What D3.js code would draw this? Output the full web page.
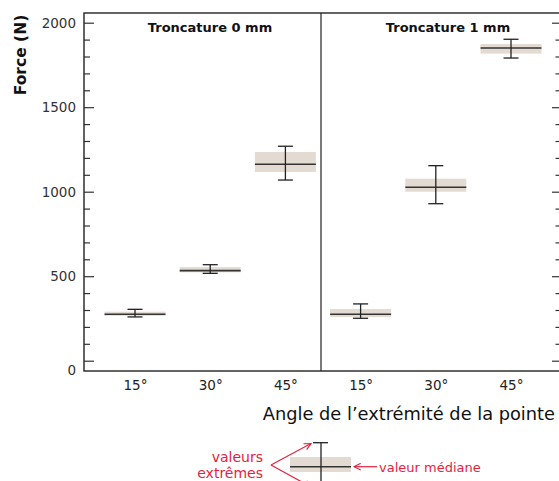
<!DOCTYPE html>
<html>
<head>
<meta charset="utf-8">
<script src="https://cdn.jsdelivr.net/npm/d3@7"></script>
<style>
  body { margin: 0; background: #fff; }
  svg { display: block; }
  svg text { font-family: "DejaVu Sans", Verdana, sans-serif; }
</style>
</head>
<body>
<svg id="chart" width="559" height="481"></svg>
<script>
// data
var panels = ["Troncature 0 mm", "Troncature 1 mm"];
var angles = ["15°", "30°", "45°"];
// one entry per (panel, angle), panel 0 first
var maxVals = [304, 568, 1269, 336, 1154, 1902];
var q3Vals = [290, 554, 1235, 306, 1077, 1874];
var medians = [275, 533, 1162, 275, 1026, 1850];
var q1Vals = [266, 523, 1117, 258, 1000, 1817];
var minVals = [259, 517, 1069, 251, 929, 1791];
var yTicks = [0, 500, 1000, 1500, 2000];

var groups = [];
panels.forEach(function (p, pi) {
    angles.forEach(function (a, ai) {
        var i = pi * angles.length + ai;
        groups.push({
            key: pi + "-" + a, angle: a,
            max: maxVals[i], q3: q3Vals[i], med: medians[i], q1: q1Vals[i], min: minVals[i]
        });
    });
});

var plotL = 84, plotR = 560, plotT = 13, plotB = 371, divider = 321;
var dark = "#222", red = "#e4233f";

var svg = d3.select("#chart");

var y = d3.scaleLinear().domain([0, 2000]).range([360.7, 22.7]);
var x = d3.scalePoint().domain(groups.map(function (d) { return d.key; })).range([135, 511]);

var minor = d3.range(0, 2001, 100).filter(function (v) { return v % 500 != 0; });

// left axis, ticks pointing inside
var yAxis = svg.append("g").attr("transform", "translate(" + plotL + ",0)")
    .call(d3.axisLeft(y).tickValues(yTicks).tickSize(-10).tickPadding(8).tickFormat(d3.format("d")));
yAxis.select(".domain").remove();
yAxis.selectAll("text").style("font-size", "13.5px").attr("fill", "#333")
    .attr("dy", function (d) { return d == 0 ? "1.05em" : ".32em"; });
var yMinor = svg.append("g").attr("transform", "translate(" + plotL + ",0)")
    .call(d3.axisLeft(y).tickValues(minor).tickSize(-6).tickFormat(""));
yMinor.select(".domain").remove();

// right axis, no labels
var rAxis = svg.append("g").attr("transform", "translate(" + plotR + ",0)")
    .call(d3.axisRight(y).tickValues(yTicks).tickSize(-8).tickFormat(""));
rAxis.select(".domain").remove();
var rMinor = svg.append("g").attr("transform", "translate(" + plotR + ",0)")
    .call(d3.axisRight(y).tickValues(minor).tickSize(-4.5).tickFormat(""));
rMinor.select(".domain").remove();
svg.selectAll(".tick line").attr("stroke", "#333").attr("stroke-width", 1.2);

// bottom labels
var xAxis = svg.append("g").attr("transform", "translate(0," + plotB + ")")
    .call(d3.axisBottom(x).tickSize(0).tickPadding(9)
        .tickFormat(function (k) { return k.split("-")[1]; }));
xAxis.select(".domain").remove();
xAxis.selectAll("text").style("font-size", "13.5px").attr("fill", "#222");

// frame
svg.append("rect").attr("x", plotL).attr("y", plotT)
    .attr("width", plotR - plotL).attr("height", plotB - plotT)
    .attr("fill", "none").attr("stroke", dark).attr("stroke-width", 1.4);
svg.append("line").attr("x1", divider).attr("x2", divider).attr("y1", plotT).attr("y2", plotB)
    .attr("stroke", dark).attr("stroke-width", 1.2);

// panel titles
var titleX = [210, 448];
svg.selectAll(".ptitle").data(panels).enter().append("text")
    .attr("x", function (d, i) { return titleX[i]; })
    .attr("y", 31.5)
    .attr("text-anchor", "middle")
    .style("font-size", "13px").style("font-weight", "bold").attr("fill", "#111")
    .text(function (d) { return d; });

// boxes
var half = 30.5, cap = 7.5;
var g = svg.selectAll(".grp").data(groups).enter().append("g");
g.append("rect")
    .attr("x", function (d) { return x(d.key) - half; })
    .attr("y", function (d) { return y(d.q3); })
    .attr("width", half * 2)
    .attr("height", function (d) { return y(d.q1) - y(d.q3); })
    .attr("fill", "#e3dbd1");
g.append("line")
    .attr("x1", function (d) { return x(d.key) - half; })
    .attr("x2", function (d) { return x(d.key) + half; })
    .attr("y1", function (d) { return y(d.med); })
    .attr("y2", function (d) { return y(d.med); })
    .attr("stroke", "#333").attr("stroke-width", 1.6);
g.append("line")
    .attr("x1", function (d) { return x(d.key); })
    .attr("x2", function (d) { return x(d.key); })
    .attr("y1", function (d) { return y(d.max); })
    .attr("y2", function (d) { return y(d.min); })
    .attr("stroke", dark).attr("stroke-width", 1.3);
["max", "min"].forEach(function (k) {
    g.append("line")
        .attr("x1", function (d) { return x(d.key) - cap; })
        .attr("x2", function (d) { return x(d.key) + cap; })
        .attr("y1", function (d) { return y(d[k]); })
        .attr("y2", function (d) { return y(d[k]); })
        .attr("stroke", dark).attr("stroke-width", 1.3);
});

// axis titles
svg.append("text")
    .attr("transform", "translate(25.5,55) rotate(-90)")
    .attr("text-anchor", "middle")
    .style("font-size", "15.5px").style("font-weight", "bold").attr("fill", "#111")
    .text("Force (N)");
svg.append("text")
    .attr("x", 555).attr("y", 420)
    .attr("text-anchor", "end")
    .style("font-size", "17.8px").attr("fill", "#111")
    .text("Angle de l\u2019extrémité de la pointe");

// legend
svg.append("defs").append("marker")
    .attr("id", "arr").attr("viewBox", "0 0 10 10").attr("refX", 9).attr("refY", 5)
    .attr("markerWidth", 7).attr("markerHeight", 7).attr("orient", "auto")
    .append("path").attr("d", "M1,1 L9,5 L1,9").attr("fill", "none")
    .attr("stroke", red).attr("stroke-width", 1.4);

var lg = svg.append("g");
lg.append("rect").attr("x", 290).attr("y", 457).attr("width", 61).attr("height", 15).attr("fill", "#e3dbd1");
lg.append("line").attr("x1", 290).attr("x2", 351).attr("y1", 466.7).attr("y2", 466.7)
    .attr("stroke", "#333").attr("stroke-width", 1.6);
lg.append("line").attr("x1", 321).attr("x2", 321).attr("y1", 442.7).attr("y2", 490)
    .attr("stroke", dark).attr("stroke-width", 1.3);
lg.append("line").attr("x1", 313).attr("x2", 328).attr("y1", 442.7).attr("y2", 442.7)
    .attr("stroke", dark).attr("stroke-width", 1.3);

lg.append("line").attr("x1", 271).attr("y1", 465).attr("x2", 311).attr("y2", 443.5)
    .attr("stroke", red).attr("stroke-width", 1.2).attr("marker-end", "url(#arr)");
lg.append("line").attr("x1", 271).attr("y1", 465).attr("x2", 311).attr("y2", 487)
    .attr("stroke", red).attr("stroke-width", 1.2).attr("marker-end", "url(#arr)");
lg.append("line").attr("x1", 377).attr("y1", 466.7).attr("x2", 354).attr("y2", 466.7)
    .attr("stroke", red).attr("stroke-width", 1.2).attr("marker-end", "url(#arr)");

lg.append("text").attr("x", 263).attr("y", 461.5).attr("text-anchor", "end")
    .style("font-size", "14px").attr("fill", red).text("valeurs");
lg.append("text").attr("x", 263).attr("y", 478).attr("text-anchor", "end")
    .style("font-size", "14px").attr("fill", red).text("extrêmes");
lg.append("text").attr("x", 379).attr("y", 471.5)
    .style("font-size", "13px").attr("fill", red).text("valeur médiane");
</script>
</body>
</html>
